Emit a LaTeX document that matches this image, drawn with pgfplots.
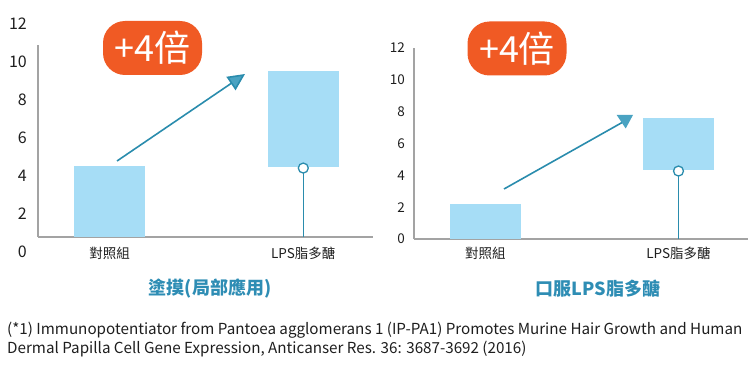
\documentclass[border=0pt]{standalone}
\usepackage{fontspec}
\setmainfont{Noto Sans CJK TC}
\usepackage{pgfplots}
\pgfplotsset{compat=1.18}
\usetikzlibrary{arrows.meta}
\definecolor{barblue}{HTML}{A6DDF6}
\definecolor{axisgray}{HTML}{A3A3A3}
\definecolor{teal1}{HTML}{2A8CAD}
\definecolor{arrowhd}{HTML}{4AA3C2}
\definecolor{badge}{HTML}{F05A24}
\definecolor{titleblue}{HTML}{2E8DB4}
\definecolor{txt}{HTML}{1E1E1E}
\pgfplotsset{mystyle/.style={
  scale only axis, axis lines=left,
  axis line style={-, draw=axisgray, line width=1.3pt},
  major tick length=0pt,
  xtick={0,1}, xticklabels={對照組,LPS脂多醣},
  /pgf/number format/assume math mode=true,
  ybar stacked, bar width=71pt,
  xmin=-0.37, xmax=1.36,
  tick label style={text=txt},
}}
\begin{document}
\begin{tikzpicture}
\path[use as bounding box] (0pt,0pt) rectangle (748pt,365pt);

% ---------- left panel ----------
\begin{axis}[mystyle, at={(38pt,128pt)}, anchor=south west,
  width=335pt, height=192pt,
  ymin=0.79, ymax=10.9, ytick={2,4,6,8,10},
  yticklabel style={font=\fontsize{16}{16}\selectfont, anchor=east, inner sep=0pt, xshift=-11pt},
  xticklabel style={font=\fontsize{13.5}{14}\selectfont, anchor=north, inner sep=0pt, yshift=-10pt}]
\addplot[fill=barblue, draw=none] coordinates {(0,4.53) (1,0)};
\addplot[fill=none, draw=none] coordinates {(0,0) (1,4.47)};
\addplot[fill=barblue, draw=none] coordinates {(0,0) (1,5.06)};
\addplot[stack plots=false, sharp plot, no marks, draw=teal1, line width=1.3pt] coordinates {(1,0.79) (1,4.42)};
\addplot[stack plots=false, only marks, mark=*, mark size=5pt, mark options={fill=white, draw=teal1, line width=1.3pt}] coordinates {(1,4.42)};
\end{axis}
\node[anchor=east, inner sep=0pt, text=txt, font=\fontsize{16}{16}\selectfont] at (27pt,113pt) {0};
\node[anchor=east, inner sep=0pt, text=txt, font=\fontsize{16}{16}\selectfont] at (27pt,341pt) {12};

% ---------- right panel ----------
\begin{axis}[mystyle, at={(414pt,126pt)}, anchor=south west,
  width=334pt, height=191pt,
  ymin=0, ymax=12, ytick={0,2,4,6,8,10,12},
  yticklabel style={font=\fontsize{13.5}{14}\selectfont, anchor=east, inner sep=0pt, xshift=-9pt},
  xticklabel style={font=\fontsize{13.5}{14}\selectfont, anchor=north, inner sep=0pt, yshift=-8pt}]
\addplot[fill=barblue, draw=none] coordinates {(0,2.2) (1,0)};
\addplot[fill=none, draw=none] coordinates {(0,0) (1,4.33)};
\addplot[fill=barblue, draw=none] coordinates {(0,0) (1,3.30)};
\addplot[stack plots=false, sharp plot, no marks, draw=teal1, line width=1.3pt] coordinates {(1,0) (1,4.27)};
\addplot[stack plots=false, only marks, mark=*, mark size=5pt, mark options={fill=white, draw=teal1, line width=1.3pt}] coordinates {(1,4.27)};
\end{axis}

% ---------- arrows ----------
\draw[teal1, line width=1.6pt, -{Triangle[length=17pt, width=16pt, fill=arrowhd]}] (117pt,204pt) -- (245pt,291pt);
\draw[teal1, line width=1.6pt] (504pt,176pt) -- (623pt,243pt);
\fill[arrowhd] (616.7pt,250pt) -- (633pt,250pt) -- (625.7pt,236.5pt) -- cycle;

% ---------- badges ----------
\node[fill=badge, rounded corners=22pt, minimum width=99pt, minimum height=54pt, text=white, inner sep=0pt, font=\fontsize{36}{36}\selectfont] at (152.5pt,317pt) {+4倍};
\node[fill=badge, rounded corners=22pt, minimum width=99pt, minimum height=54pt, text=white, inner sep=0pt, font=\fontsize{36}{36}\selectfont] at (517pt,316.5pt) {+4倍};

% ---------- titles ----------
\node[text=titleblue, font=\bfseries\fontsize{18}{18}\selectfont] at (210pt,76pt) {塗摸(局部應用)};
\node[text=titleblue, font=\bfseries\fontsize{18}{18}\selectfont] at (598pt,76pt) {口服LPS脂多醣};

% ---------- footnote ----------
\node[anchor=base west, inner sep=0pt, text=txt, font=\fontsize{15.2}{19}\selectfont] at (7pt,31pt) {(*1) Immunopotentiator from Pantoea agglomerans 1 (IP-PA1) Promotes Murine Hair Growth and Human};
\node[anchor=base west, inner sep=0pt, text=txt, font=\fontsize{15.2}{19}\selectfont] at (7pt,12pt) {Dermal Papilla Cell Gene Expression, Anticanser Res. 36: 3687-3692 (2016)};
\end{tikzpicture}
\end{document}
